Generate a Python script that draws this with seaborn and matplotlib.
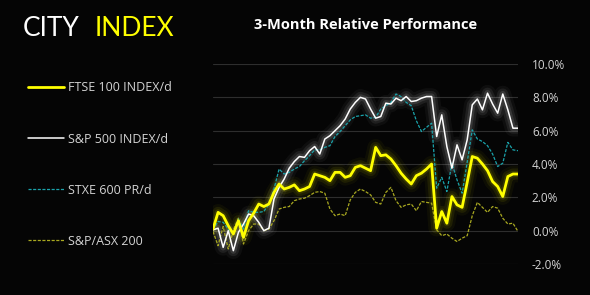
import numpy as np
import pandas as pd
import matplotlib
matplotlib.use("Agg")
import matplotlib.pyplot as plt
import seaborn as sns

# ---- data (% relative performance) ----
ftse = [0.1, 1.1, 0.9, 0.3, -0.2, 0.6, -0.4, 0.6, 1.05, 1.6,
        1.45, 1.6, 2.3, 2.8, 2.5, 2.6, 2.75, 2.4, 2.5, 2.65,
        3.4, 3.3, 3.2, 3.0, 3.5, 3.5, 3.2, 3.3, 3.8, 3.9,
        3.75, 3.6, 5.0, 4.5, 4.55, 4.3, 3.9, 3.45, 3.1, 2.8,
        3.3, 3.45, 3.7, 4.0, 0.15, 1.15, 0.45, 2.05, 1.55, 1.4,
        2.9, 4.45, 4.35, 4.0, 3.6, 2.95, 2.65, 2.05, 3.25, 3.4, 3.4]
spx = [0.05, 0.15, -1.0, 0.0, -1.2, -0.1, 0.4, 1.0, 0.9, 0.5,
       0.0, 0.15, 1.9, 2.6, 3.1, 3.75, 4.15, 4.45, 4.4, 4.8,
       5.05, 4.6, 5.5, 5.7, 6.0, 6.3, 6.7, 7.3, 7.7, 8.0,
       7.9, 7.3, 6.75, 6.85, 7.65, 7.6, 7.95, 7.8, 8.05, 7.75,
       7.8, 7.95, 8.05, 8.05, 5.65, 6.95, 5.05, 3.75, 5.15, 4.25,
       5.45, 7.55, 7.9, 7.25, 8.25, 7.6, 7.05, 8.2, 7.25, 6.15, 6.15]
stxe = [0.05, 0.55, 0.5, 0.1, -0.2, 0.7, 0.1, 1.2, 1.1, 1.1,
        1.15, 1.6, 2.5, 3.7, 3.4, 3.5, 3.7, 3.85, 4.2, 4.5,
        4.85, 4.85, 5.0, 5.1, 5.65, 5.95, 6.3, 6.65, 6.85, 6.9,
        6.95, 6.75, 6.8, 7.3, 7.5, 7.7, 8.2, 8.05, 7.7, 7.5,
        6.6, 5.95, 6.2, 6.45, 2.55, 3.2, 2.35, 4.05, 3.05, 2.25,
        4.1, 6.05, 5.5, 5.35, 5.1, 4.6, 3.85, 4.05, 5.3, 4.85, 4.8]
asx = [-0.05, -0.9, 0.25, -1.1, 0.05, 0.75, -0.8, 0.0, 0.4, 0.4,
       0.0, 0.1, 0.6, 1.3, 1.4, 1.45, 1.8, 1.9, 1.95, 2.1,
       2.3, 2.35, 2.25, 1.3, 0.9, 1.0, 0.9, 1.85, 2.3, 2.5,
       2.35, 2.15, 1.7, 1.6, 2.3, 2.6, 1.8, 1.4, 1.55, 1.6,
       1.2, 1.75, 1.7, 1.65, 0.05, -0.3, -0.2, -0.45, -0.65, -0.45,
       -0.3, 0.9, 1.7, 1.4, 1.1, 1.45, 1.35, 0.75, 0.4, 0.45, -0.05]
names = ["FTSE 100 INDEX/d", "S&P 500 INDEX/d", "STXE 600 PR/d", "S&P/ASX 200"]
yticks = [-2, 0, 2, 4, 6, 8, 10]

days = np.arange(len(ftse))
df = pd.DataFrame({"day": days, names[0]: ftse, names[1]: spx,
                   names[2]: stxe, names[3]: asx})

BG = "#050505"
colors = {names[0]: "#ffff00", names[1]: "#ffffff",
          names[2]: "#1aa3ab", names[3]: "#a8a820"}
widths = {names[0]: 2.0, names[1]: 1.1, names[2]: 0.9, names[3]: 0.9}
dashes = {names[0]: "-", names[1]: "-", names[2]: (0, (2.5, 1.2)),
          names[3]: (0, (2.5, 1.2))}
glow = {names[0]: "#ffff00", names[1]: "#ffffff"}

sns.set_theme(style="dark")
plt.rcParams["font.family"] = ["Open Sans", "DejaVu Sans"]

fig = plt.figure(figsize=(5.9, 2.95), dpi=100, facecolor=BG)
ax = fig.add_axes([0.361, 0.105, 0.517, 0.678])
ax.set_facecolor(BG)

# glow layers
for name, gc in glow.items():
    for lw, a in [(12, 0.04), (8, 0.07), (4.5, 0.11)]:
        sns.lineplot(data=df, x="day", y=name, ax=ax, color=gc,
                     linewidth=lw, alpha=a, legend=False)

# draw order: ASX, STXE, SPX, FTSE
handles = {}
for name in [names[3], names[2], names[1], names[0]]:
    sns.lineplot(data=df, x="day", y=name, ax=ax, color=colors[name],
                 linewidth=widths[name], linestyle=dashes[name], legend=False)
    handles[name] = ax.lines[-1]

ax.set_xlim(days[0], days[-1])
ax.set_ylim(-2, 10)
ax.set_yticks(yticks)
ax.set_yticklabels([f"{v:.1f}%" for v in yticks])
ax.set_xticks([])
ax.set_xlabel("")
ax.set_ylabel("")
ax.yaxis.tick_right()
ax.tick_params(axis="y", length=0, pad=10, labelsize=8.5, labelcolor="#d4d4d4")
for lab in ax.get_yticklabels():
    lab.set_horizontalalignment("left")
ax.grid(axis="y", color="#2e2e2e", linewidth=0.8)
ax.grid(axis="x", visible=False)
for s in ax.spines.values():
    s.set_visible(False)

# legend
leg = fig.legend([handles[n] for n in names], names,
                 loc="upper left", bbox_to_anchor=(0.028, 0.762),
                 frameon=False, fontsize=9, labelcolor="#d4d4d4",
                 handlelength=2.9, handletextpad=0.3, labelspacing=3.05)

# titles
fig.text(0.619, 0.915, "3-Month Relative Performance", color="white",
         fontsize=10.5, fontweight="bold", ha="center", va="center")
fig.text(0.039, 0.905, "CITY", color="white", fontsize=19,
         fontweight="normal", family=["Lato", "DejaVu Sans"], ha="left", va="center")
fig.text(0.160, 0.905, "INDEX", color="#ffff00", fontsize=19,
         fontweight="normal", family=["Lato", "DejaVu Sans"], ha="left", va="center")

fig.savefig("out.png", dpi=100, facecolor=BG)
